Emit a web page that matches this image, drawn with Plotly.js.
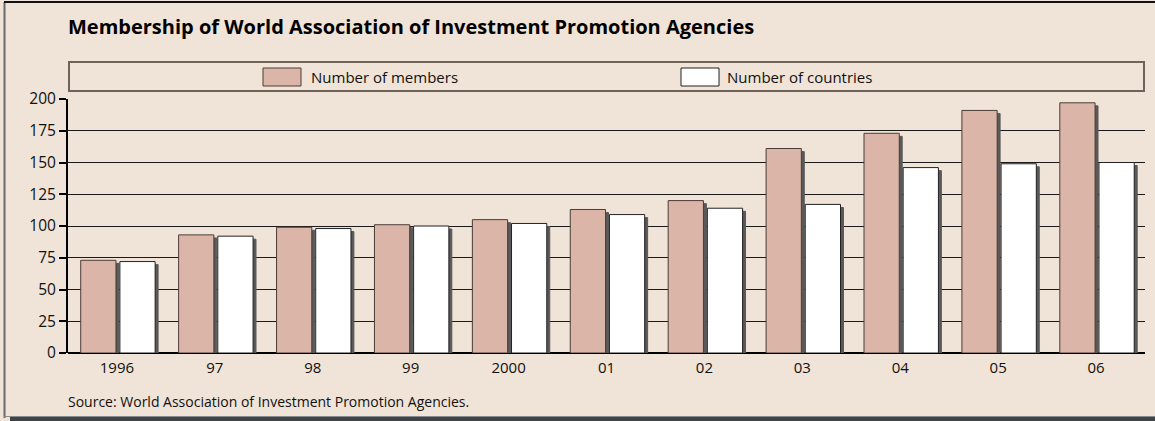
<!DOCTYPE html>
<html>
<head>
<meta charset="utf-8">
<script src="https://cdn.plot.ly/plotly-3.0.1.min.js"></script>
<style>
  body { margin: 0; background: #f0e3d7; }
  #chart { width: 1155px; height: 421px; }
</style>
</head>
<body>
<div id="chart"></div>
<script>
// data
var years = ['1996', '97', '98', '99', '2000', '01', '02', '03', '04', '05', '06'];
var members = [73, 93, 99, 101, 105, 113, 120, 161, 173, 191, 197];
var countries = [72, 92, 98, 100, 102, 109, 114, 117, 146, 149, 150];

var bg = '#f0e3d7';
var pink = '#dbb6a8';
var shadow = '#595959';

// plot area in pixels
var L = 68, R = 1145, T = 99, B = 353;
function px(x) { return (x - L) / (R - L); }
function py(y) { return (B - y) / (B - T); }

function bars(vals, fill, line, off, isShadow) {
  return {
    type: 'bar',
    x: years,
    y: vals,
    base: isShadow ? -2.4 : 0,
    offset: isShadow ? off + 0.03 : off,
    width: 0.36,
    marker: {
      color: isShadow ? shadow : fill,
      line: {color: isShadow ? shadow : line, width: 1}
    },
    cliponaxis: false,
    showlegend: false,
    hoverinfo: isShadow ? 'skip' : 'x+y'
  };
}

var data = [
  bars(members, pink, '#4a3c36', -0.37, true),
  bars(countries, '#ffffff', '#222', 0.03, true),
  bars(members, pink, '#4a3c36', -0.37, false),
  bars(countries, '#ffffff', '#222', 0.03, false)
];

var font = 'Open Sans, Noto Sans, sans-serif';

var layout = {
  width: 1155,
  height: 421,
  paper_bgcolor: bg,
  plot_bgcolor: bg,
  barmode: 'overlay',
  margin: {l: L, r: 1155 - R, t: T, b: 421 - B, pad: 0},
  font: {family: font, size: 15, color: '#111'},
  xaxis: {
    type: 'category',
    showgrid: false,
    showline: false,
    ticks: '',
    tickfont: {size: 15},
    ticklabelstandoff: 4,
    range: [-0.5, 10.5],
    fixedrange: true
  },
  yaxis: {
    range: [0, 200],
    tickvals: [0, 25, 50, 75, 100, 125, 150, 175, 200],
    showgrid: true,
    gridcolor: '#1a1a1a',
    gridwidth: 1,
    zeroline: true,
    zerolinecolor: '#000',
    zerolinewidth: 2,
    showline: true,
    linecolor: '#000',
    linewidth: 2,
    ticks: 'outside',
    ticklen: 7,
    tickwidth: 2,
    tickcolor: '#000',
    tickfont: {size: 15.5},
    fixedrange: true
  },
  title: {
    text: '<b>Membership of World Association of Investment Promotion Agencies</b>',
    font: {size: 20, color: '#000'},
    x: px(68), xanchor: 'left', xref: 'paper',
    y: 1 - 27 / 421, yanchor: 'middle', yref: 'container'
  },
  shapes: [
    // frame
    {type: 'line', xref: 'paper', yref: 'paper', x0: px(4.5), x1: px(4.5), y0: py(2), y1: py(418),
     line: {color: '#6b6b6b', width: 2}, layer: 'below'},
    {type: 'line', xref: 'paper', yref: 'paper', x0: px(4), x1: px(1155), y0: py(2), y1: py(2),
     line: {color: '#111', width: 2}, layer: 'below'},
    {type: 'line', xref: 'paper', yref: 'paper', x0: px(10), x1: px(1155), y0: py(419), y1: py(419),
     line: {color: '#3f4448', width: 4}, layer: 'below'},
    {type: 'line', xref: 'paper', yref: 'paper', x0: px(4), x1: px(1155), y0: py(416.5), y1: py(416.5),
     line: {color: '#8a8a8a', width: 1}, layer: 'below'},
    // legend box
    {type: 'rect', xref: 'paper', yref: 'paper', x0: px(69), x1: px(1144), y0: py(91), y1: py(62),
     line: {color: '#6e6259', width: 2}, fillcolor: bg, layer: 'below'},
    // legend swatches
    {type: 'rect', xref: 'paper', yref: 'paper', x0: px(263), x1: px(301), y0: py(86), y1: py(68),
     line: {color: '#4a3c36', width: 1}, fillcolor: pink},
    {type: 'rect', xref: 'paper', yref: 'paper', x0: px(681), x1: px(719), y0: py(86), y1: py(68),
     line: {color: '#222', width: 1}, fillcolor: '#ffffff'}
  ],
  annotations: [
    {text: 'Number of members', xref: 'paper', yref: 'paper', x: px(309), y: py(77),
     xanchor: 'left', yanchor: 'middle', showarrow: false, font: {size: 15}},
    {text: 'Number of countries', xref: 'paper', yref: 'paper', x: px(725), y: py(77),
     xanchor: 'left', yanchor: 'middle', showarrow: false, font: {size: 15}},
    {text: 'Source: World Association of Investment Promotion Agencies.', xref: 'paper', yref: 'paper',
     x: px(66), y: py(401), xanchor: 'left', yanchor: 'middle', showarrow: false, font: {size: 14}}
  ]
};

Plotly.newPlot('chart', data, layout, {displayModeBar: false, staticPlot: true});
</script>
</body>
</html>
